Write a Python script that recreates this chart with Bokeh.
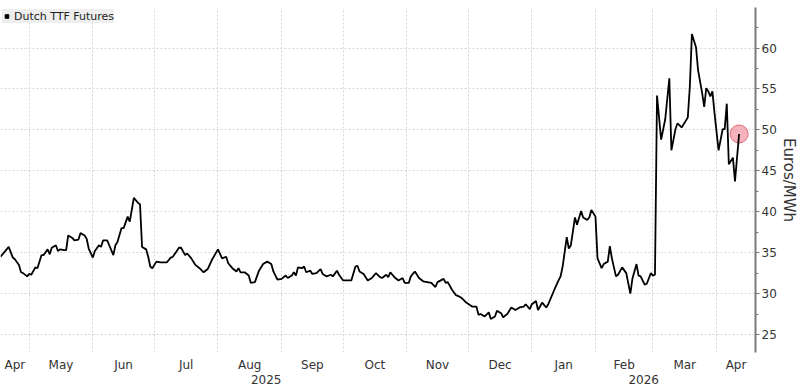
import numpy as np
import pandas as pd
from bokeh.plotting import figure
from bokeh.models import (Range1d, FixedTicker, SingleIntervalTicker, LinearAxis,
                          Legend, LegendItem, ColumnDataSource)
from bokeh.embed import file_html
from bokeh.resources import INLINE

# ---------------- data ----------------
series_name = "Dutch TTF Futures"
y_label = "Euros/MWh"

dates = [
    "2025-04-17", "2025-04-21", "2025-04-23", "2025-04-24", "2025-04-26", "2025-04-27", "2025-04-28", "2025-04-30",
    "2025-05-01", "2025-05-02", "2025-05-04", "2025-05-05", "2025-05-07", "2025-05-08", "2025-05-10", "2025-05-11",
    "2025-05-12", "2025-05-14", "2025-05-15", "2025-05-16", "2025-05-18", "2025-05-19", "2025-05-20", "2025-05-22",
    "2025-05-23", "2025-05-25", "2025-05-26", "2025-05-28", "2025-05-29", "2025-05-30",
    "2025-06-01", "2025-06-02", "2025-06-04", "2025-06-05", "2025-06-06", "2025-06-08", "2025-06-09", "2025-06-11",
    "2025-06-12", "2025-06-13", "2025-06-15", "2025-06-16", "2025-06-18", "2025-06-19", "2025-06-21", "2025-06-23",
    "2025-06-24", "2025-06-25", "2025-06-27", "2025-06-28", "2025-06-29", "2025-06-30",
    "2025-07-02", "2025-07-04", "2025-07-07", "2025-07-09", "2025-07-10", "2025-07-13", "2025-07-14", "2025-07-16",
    "2025-07-17", "2025-07-19", "2025-07-21", "2025-07-23", "2025-07-25", "2025-07-27", "2025-07-29",
    "2025-08-01", "2025-08-03", "2025-08-05", "2025-08-06", "2025-08-08", "2025-08-10", "2025-08-11", "2025-08-12",
    "2025-08-14", "2025-08-16", "2025-08-17", "2025-08-19", "2025-08-21", "2025-08-23", "2025-08-25", "2025-08-27",
    "2025-08-28", "2025-08-30",
    "2025-09-01", "2025-09-03", "2025-09-04", "2025-09-06", "2025-09-07", "2025-09-08", "2025-09-09", "2025-09-11",
    "2025-09-12", "2025-09-13", "2025-09-15", "2025-09-16", "2025-09-18", "2025-09-20", "2025-09-21", "2025-09-23",
    "2025-09-25", "2025-09-26", "2025-09-28", "2025-09-29",
    "2025-10-01", "2025-10-03", "2025-10-05", "2025-10-07", "2025-10-08", "2025-10-09", "2025-10-11", "2025-10-13",
    "2025-10-15", "2025-10-17", "2025-10-19", "2025-10-20", "2025-10-22", "2025-10-23", "2025-10-24", "2025-10-26",
    "2025-10-28", "2025-10-30", "2025-10-31",
    "2025-11-02", "2025-11-03", "2025-11-05", "2025-11-07", "2025-11-09", "2025-11-11", "2025-11-13", "2025-11-15",
    "2025-11-16", "2025-11-19", "2025-11-20", "2025-11-21", "2025-11-23", "2025-11-25", "2025-11-27", "2025-11-28",
    "2025-11-30",
    "2025-12-03", "2025-12-05", "2025-12-06", "2025-12-07", "2025-12-09", "2025-12-11", "2025-12-12", "2025-12-14",
    "2025-12-15", "2025-12-17", "2025-12-18", "2025-12-20", "2025-12-22", "2025-12-24", "2025-12-26", "2025-12-28",
    "2025-12-29", "2025-12-31",
    "2026-01-01", "2026-01-03", "2026-01-04", "2026-01-06", "2026-01-08", "2026-01-09", "2026-01-12", "2026-01-14",
    "2026-01-15", "2026-01-16", "2026-01-18", "2026-01-19", "2026-01-20", "2026-01-22", "2026-01-23", "2026-01-25",
    "2026-01-26", "2026-01-28", "2026-01-29", "2026-01-30",
    "2026-02-01", "2026-02-02", "2026-02-04", "2026-02-05", "2026-02-07", "2026-02-08", "2026-02-09", "2026-02-11",
    "2026-02-12", "2026-02-14", "2026-02-16", "2026-02-18", "2026-02-19", "2026-02-21", "2026-02-22", "2026-02-23",
    "2026-02-25", "2026-02-26", "2026-02-28",
    "2026-03-01", "2026-03-02", "2026-03-03", "2026-03-05", "2026-03-07", "2026-03-09", "2026-03-10", "2026-03-12",
    "2026-03-13", "2026-03-15", "2026-03-17", "2026-03-18", "2026-03-19", "2026-03-20", "2026-03-22", "2026-03-23",
    "2026-03-25", "2026-03-26", "2026-03-27", "2026-03-28", "2026-03-29", "2026-03-30", "2026-03-31",
    "2026-04-02", "2026-04-04", "2026-04-05", "2026-04-06", "2026-04-07", "2026-04-09", "2026-04-10", "2026-04-12",
]

ttf_price = [
    34.5, 35.7, 34.4, 34.2, 33.5, 32.6, 32.5, 32.1,
    32.4, 32.3, 33.2, 33.1, 34.7, 34.7, 35.4, 34.8,
    35.6, 35.9, 35.2, 35.4, 35.3, 35.3, 37.1, 36.8,
    36.5, 36.6, 37.4, 37.1, 36.7, 35.5,
    34.4, 35.2, 35.9, 35.7, 36.5, 36.5, 35.9, 34.7,
    35.9, 36.3, 38.0, 38.0, 39.4, 38.8, 41.7, 41.1,
    40.9, 35.7, 35.4, 34.5, 33.3, 33.1,
    33.9, 33.8, 33.8, 34.4, 34.5, 35.6, 35.6, 34.7,
    34.9, 34.3, 33.5, 33.1, 32.6, 33.0, 34.1,
    35.4, 34.3, 34.5, 33.7, 33.1, 32.7, 33.1, 32.6,
    32.6, 32.2, 31.3, 31.4, 32.8, 33.6, 33.9, 33.6,
    32.7, 31.7,
    31.8, 32.2, 31.9, 32.2, 32.6, 32.2, 33.2, 33.1,
    33.3, 32.6, 32.8, 32.4, 32.5, 33.0, 32.4, 32.1,
    32.3, 32.1, 32.8, 32.3,
    31.6, 31.6, 31.6, 33.3, 33.4, 32.7, 32.4, 31.6,
    31.9, 32.5, 32.0, 31.9, 32.3, 32.0, 32.6, 32.0,
    31.6, 31.9, 31.3,
    31.3, 32.1, 32.7, 31.9, 31.5, 31.4, 31.3, 30.8,
    31.4, 31.8, 31.3, 31.4, 30.5, 29.8, 29.6, 29.4,
    28.9,
    28.4, 28.4, 27.4, 27.5, 27.2, 27.7, 26.9, 27.2,
    27.9, 27.6, 27.1, 27.5, 28.3, 28.0, 28.3, 28.4,
    28.7, 28.1,
    28.7, 29.1, 28.0, 28.9, 28.3, 28.7, 30.5, 31.6,
    32.1, 33.3, 36.9, 35.5, 35.9, 39.3, 38.4, 40.1,
    39.3, 39.0, 39.3, 40.2,
    39.4, 34.3, 33.1, 33.6, 33.9, 35.8, 34.3, 32.1,
    32.3, 33.2, 32.5, 30.0, 31.8, 33.6, 32.2, 32.1,
    31.1, 31.2, 32.5,
    32.2, 32.3, 54.2, 48.8, 51.3, 56.3, 47.5, 50.1,
    50.8, 50.3, 51.1, 51.5, 55.3, 61.7, 60.1, 57.3,
    54.5, 52.8, 55.1, 54.7, 54.1, 54.7, 52.1,
    47.5, 50.1, 50.1, 53.2, 45.8, 46.6, 43.7, 49.5,
]

month_labels = ["Apr", "May", "Jun", "Jul", "Aug", "Sep", "Oct", "Nov", "Dec",
                "Jan", "Feb", "Mar", "Apr"]
year_labels = ["2025", "2026"]

x_start, x_end = "2025-04-17", "2026-04-20"
y_min, y_max = 22.8, 64.95

# ---------------- helpers ----------------
def ms(ts):
    return int(pd.Timestamp(ts).value // 10**6)

dt = pd.to_datetime(dates)
month_starts = pd.date_range("2025-05-01", "2026-04-01", freq="MS")
bounds = [ms(x_start)] + [ms(m) for m in month_starts] + [ms(x_end)]
month_mids = [(bounds[i] + bounds[i + 1]) // 2 for i in range(len(bounds) - 1)]
ybounds = [ms(x_start), ms("2026-01-01"), ms(x_end)]
year_mids = [(ybounds[i] + ybounds[i + 1]) // 2 for i in range(2)]

FONT = "DejaVu Sans"
TXT = "#333333"

p = figure(width=800, height=386, x_axis_type="datetime", y_axis_location="right",
           x_range=Range1d(ms(x_start), ms(x_end)), y_range=Range1d(y_min, y_max),
           output_backend="svg", toolbar_location=None,
           min_border_left=0, min_border_right=0, min_border_top=7, min_border_bottom=0)
p.outline_line_color = None
p.background_fill_color = "white"
p.border_fill_color = "white"

# month axis
xa = p.xaxis[0]
xa.ticker = FixedTicker(ticks=month_mids)
xa.major_label_overrides = {m: l for m, l in zip(month_mids, month_labels)}
xa.major_tick_line_color = None
xa.minor_tick_line_color = None
xa.major_tick_in = 0
xa.major_tick_out = 0
xa.minor_tick_in = 0
xa.minor_tick_out = 0
xa.axis_line_color = None
xa.major_label_standoff = 5
xa.major_label_text_font = FONT
xa.major_label_text_font_size = "12px"
xa.major_label_text_color = TXT

# year axis
ya2 = LinearAxis(ticker=FixedTicker(ticks=year_mids),
                 major_label_overrides={m: l for m, l in zip(year_mids, year_labels)})
ya2.major_tick_line_color = None
ya2.minor_tick_line_color = None
ya2.major_tick_in = 0
ya2.major_tick_out = 0
ya2.minor_tick_in = 0
ya2.minor_tick_out = 0
ya2.axis_line_color = None
ya2.major_label_standoff = 0
ya2.major_label_text_font = FONT
ya2.major_label_text_font_size = "12px"
ya2.major_label_text_color = TXT
p.add_layout(ya2, "below")

# grids
p.xgrid.ticker = FixedTicker(ticks=[ms(m) for m in month_starts])
for g in (p.xgrid[0], p.ygrid[0]):
    g.grid_line_color = "#d4d4d4"
    g.grid_line_dash = "2 2"
    g.grid_line_width = 1

# right y axis
yax = p.yaxis[0]
yax.ticker = SingleIntervalTicker(interval=5, num_minor_ticks=2)
yax.axis_line_color = "#7a7a7a"
yax.axis_line_width = 2
yax.major_tick_line_color = "#7a7a7a"
yax.minor_tick_line_color = "#7a7a7a"
yax.major_tick_in = 0
yax.major_tick_out = 4
yax.minor_tick_in = 0
yax.minor_tick_out = 3
yax.major_label_standoff = 2
yax.major_label_text_font = FONT
yax.major_label_text_font_size = "12px"
yax.major_label_text_color = TXT
yax.axis_label = y_label
yax.axis_label_text_font = FONT
yax.axis_label_text_font_size = "15px"
yax.axis_label_text_font_style = "normal"
yax.axis_label_text_color = TXT
yax.axis_label_standoff = 0

# last-value marker, then the line on top
p.scatter(x=[dt[-1]], y=[ttf_price[-1]], size=18, fill_color="#f08c9a",
          fill_alpha=0.65, line_color="#e06a7a", line_width=1)
src = ColumnDataSource(dict(x=dt, y=ttf_price))
p.line("x", "y", source=src, line_color="black", line_width=1.8)

# legend
dummy = p.scatter(x=[np.nan], y=[np.nan], marker="square", size=9, color="black")
legend = Legend(items=[LegendItem(label=series_name, renderers=[dummy])],
                location="top_left", margin=2, padding=6, spacing=0,
                glyph_width=9, glyph_height=14, label_standoff=3,
                label_text_font=FONT, label_text_font_size="11px",
                label_text_color="#222222", label_height=14,
                background_fill_color="#eeeeee", background_fill_alpha=1.0,
                border_line_color=None)
p.add_layout(legend)

open("out.html", "w").write(file_html(p, INLINE))
